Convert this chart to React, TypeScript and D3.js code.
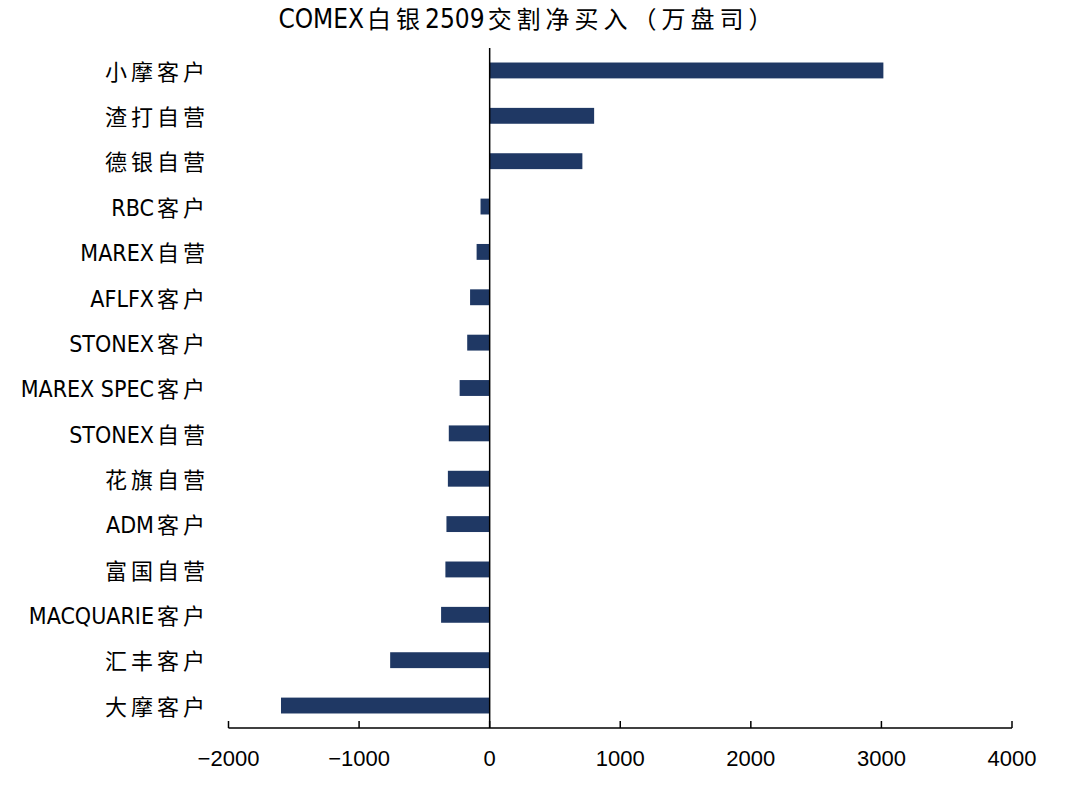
import React from "react";
import * as d3 from "d3";

const categories = [
  "小摩客户", "渣打自营", "德银自营", "RBC客户", "MAREX自营", "AFLFX客户",
  "STONEX客户", "MAREX SPEC客户", "STONEX自营", "花旗自营", "ADM客户",
  "富国自营", "MACQUARIE客户", "汇丰客户", "大摩客户",
];
const values = [3015, 800, 710, -70, -100, -150, -172, -230, -313, -320, -331, -339, -372, -762, -1598];
const tickValues = [-2000, -1000, 0, 1000, 2000, 3000, 4000];
const title = "COMEX白银2509交割净买入（万盘司）";

const W = 1080, H = 792;
const LATIN = "'Liberation Sans Narrow', 'DejaVu Sans Condensed', 'Liberation Sans', sans-serif";
const CJK = "'Noto Sans CJK SC', sans-serif";

function splitRuns(s: string) {
  const runs: { t: string; cjk: boolean }[] = [];
  for (const ch of s) {
    const cjk = /[\u3000-\u9fff\uff00-\uffef]/.test(ch);
    if (runs.length && runs[runs.length - 1].cjk === cjk) runs[runs.length - 1].t += ch;
    else runs.push({ t: ch, cjk });
  }
  return runs;
}

function MixedText({ s, x, y, anchor, size, cjkSize, spacing }: any) {
  const runs = splitRuns(s);
  return (
    <text x={x} y={y + size * 0.36} textAnchor={anchor} fill="#000">
      {runs.map((r, i) =>
        r.cjk ? (
          <tspan key={i} fontFamily={CJK} fontSize={cjkSize} letterSpacing={spacing}
            dx={i > 0 ? 3 : 0}>{r.t}</tspan>
        ) : (
          <tspan key={i} fontFamily={LATIN} fontSize={size}>{r.t}</tspan>
        )
      )}
    </text>
  );
}

export default function App() {
  const x = d3.scaleLinear().domain([-2000, 4000]).range([228.5, 1012]);
  const y = d3.scaleBand().domain(categories).range([48, 728]).paddingInner(0.65).paddingOuter(0.32);
  const axisY = 728;
  return (
    <svg width={W} height={H} style={{ position: "absolute", left: 0, top: 0, background: "#fff" }}>
      <rect width={W} height={H} fill="#fff" />
      <MixedText s={title} x={528} y={19} anchor="middle" size={26} cjkSize={24} spacing={5} />
      {categories.map((c, i) => {
        const v = values[i];
        return (
          <rect key={c} x={x(Math.min(0, v))} y={y(c)} width={Math.abs(x(v) - x(0))}
            height={y.bandwidth()} fill="#1f3864" />
        );
      })}
      {categories.map((c) => (
        <MixedText key={c} s={c} x={209} y={(y(c) as number) + y.bandwidth() / 2 + 1} anchor="end"
          size={23} cjkSize={22} spacing={4} />
      ))}
      <line x1={x(0)} x2={x(0)} y1={48} y2={axisY} stroke="#000" strokeWidth={1.5} />
      <line x1={x(-2000)} x2={x(4000)} y1={axisY} y2={axisY} stroke="#000" strokeWidth={1.5} />
      {tickValues.map((t) => (
        <g key={t}>
          <line x1={x(t)} x2={x(t)} y1={axisY} y2={axisY - 7} stroke="#000" strokeWidth={1.5} />
          <text x={x(t)} y={758} textAnchor="middle" dominantBaseline="central"
            fontFamily="'Liberation Sans', Arial, sans-serif" fontSize={22} fill="#000">
            {t < 0 ? "\u2212" + Math.abs(t) : String(t)}
          </text>
        </g>
      ))}
    </svg>
  );
}
